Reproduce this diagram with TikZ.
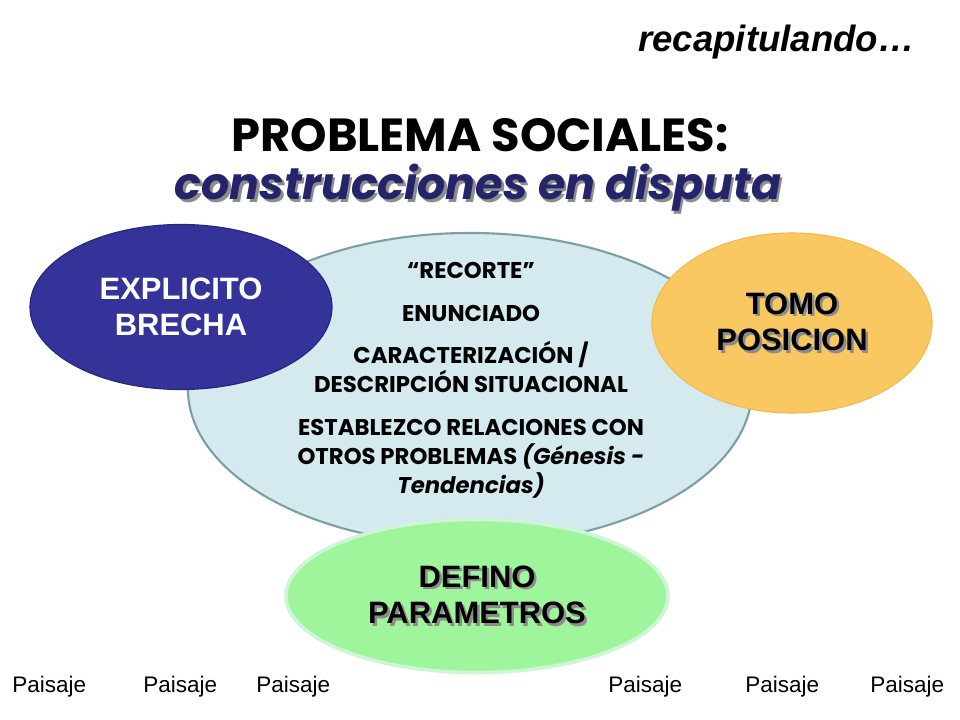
\documentclass[tikz,border=0pt]{standalone}
\usepackage{fontspec}
\setmainfont{Liberation Sans}
\newfontfamily\gotica{Poppins}
\usetikzlibrary{shapes.geometric}
\definecolor{celeste}{HTML}{D5EAEF}
\definecolor{bordeceleste}{HTML}{7E9EA6}
\definecolor{azulosc}{HTML}{333399}
\definecolor{bordeazul}{HTML}{26267A}
\definecolor{naranja}{HTML}{FAC860}
\definecolor{bordenaranja}{HTML}{F2BA4E}
\definecolor{verde}{HTML}{9EF59C}
\definecolor{bordeverde}{HTML}{CDF5D6}
\definecolor{marino}{HTML}{24246A}
\newcommand\sombreado[1]{\makebox[0pt][l]{\kern1.8pt\raisebox{-1.8pt}{\textcolor{black!45}{#1}}}#1}
\tikzset{
  burbuja/.style={ellipse, inner sep=0pt, align=center},
  rotulo/.style={font=\fontsize{22}{26}\selectfont\bfseries, align=center},
  paisaje/.style={anchor=base west, inner sep=0pt, font=\fontsize{16}{18}\selectfont}
}
\begin{document}
\begin{tikzpicture}[x=0.025cm, y=-0.025cm]
        \useasboundingbox (0,0) rectangle (960,720);
        % Titles %
        \node [anchor=base east, inner sep=0pt, font=\fontsize{26}{30}\selectfont\bfseries\itshape] (recap) at (915,52) {recapitulando…};
        \node [font=\gotica\fontsize{33}{36}\selectfont\bfseries] (titulo) at (480,135) {PROBLEMA SOCIALES:};
        \node [font=\gotica\fontsize{31.5}{34}\selectfont\bfseries\itshape, text=marino] (subtitulo) at (478,189) {\sombreado{construcciones en disputa}};
        % Bubbles %
        \node [burbuja, fill=celeste, draw=bordeceleste, line width=1.5pt, minimum width=14.1cm, minimum height=7.8cm] (centro) at (470,389) {};
        \node [font=\gotica\fontsize{16.2}{20.5}\selectfont\bfseries, align=center] (cuerpo) at (471,380)
          {“RECORTE”\\[10pt] ENUNCIADO\\[10pt] CARACTERIZACIÓN /\\ DESCRIPCIÓN SITUACIONAL\\[10pt]
           ESTABLEZCO RELACIONES CON\\ OTROS PROBLEMAS \textit{(Génesis -}\\ \textit{Tendencias)}};
        \node [burbuja, rotulo, fill=azulosc, draw=bordeazul, line width=0.8pt, text=white, minimum width=7.55cm, minimum height=4.125cm] (brecha) at (181,307) {EXPLICITO\\ BRECHA};
        \node [burbuja, rotulo, fill=naranja, draw=bordenaranja, line width=0.8pt, minimum width=7cm, minimum height=4.5cm] (postura) at (792,323) {\sombreado{TOMO}\\ \sombreado{POSICION}};
        \node [burbuja, rotulo, fill=verde, draw=bordeverde, line width=2.5pt, minimum width=9.55cm, minimum height=3.825cm] (parametros) at (477,596) {\sombreado{DEFINO}\\ \sombreado{PARAMETROS}};
        % Footer %
        \node [paisaje] (p1) at (12,692) {Paisaje};
        \node [paisaje] (p2) at (143,692) {Paisaje};
        \node [paisaje] (p3) at (256,692) {Paisaje};
        \node [paisaje] (p4) at (608,692) {Paisaje};
        \node [paisaje] (p5) at (745,692) {Paisaje};
        \node [paisaje] (p6) at (870,692) {Paisaje};
      \end{tikzpicture}
\end{document}
